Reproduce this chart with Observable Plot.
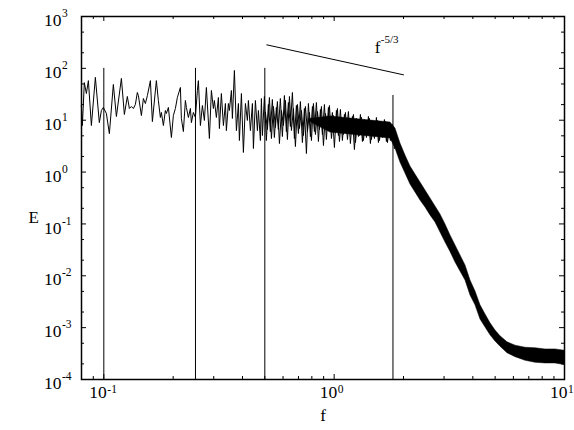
<!DOCTYPE html>
<html>
<head>
<meta charset="utf-8">
<script src="https://cdn.jsdelivr.net/npm/d3@7"></script>
<script src="https://cdn.jsdelivr.net/npm/@observablehq/plot@0.6"></script>
<style>
  html, body { margin: 0; padding: 0; background: #fff; }
  #chart { width: 574px; height: 430px; }
  #chart svg, #chart svg text { font-family: "Liberation Serif", "Times New Roman", serif !important; }
</style>
</head>
<body>
<div id="chart"></div>
<script>
// ---- spectrum (sparse low-frequency part + noisy plateau) ----
const lineF = [
  0.0799,0.0807,0.0823,0.0840,0.0857,0.0883,0.0919,0.0956,0.0976,0.0995,
  0.1026,0.1057,0.1100,0.1134,0.1192,0.1228,0.1265,0.1291,0.1317,0.1344,
  0.1371,0.1398,0.1413,0.1456,0.1485,0.1515,0.1546,0.1593,0.1625,0.1691,
  0.1725,0.1760,0.1778,0.1814,0.1850,0.1869,0.1907,0.1965,0.2004,0.2045,
  0.2086,0.2150,0.2171,0.2215,0.2260,0.2283,0.2329,0.2376,0.2400,0.2448,
  0.2498,0.2548,0.2574,0.2626,0.2679,0.2733,0.2788,0.2873,0.2931,0.2990,
  0.3020,0.3081,0.3144,0.3175,0.3239,0.3305,0.3372,0.3405,0.3474,0.3509,
  0.3580,0.3616,0.3689,0.3764,0.3840,0.3878,0.3957,0.4036,0.4118,0.4201,
  0.4243,0.4329,0.4417,0.4461,0.4551,0.4643,0.4690,0.4784,0.4832,0.4881,
  0.4980,0.5077,0.5181,0.5285,0.5391,0.5501,0.5612,0.5725,0.5841,0.5959,
  0.6081,0.6203,0.6328,0.6457,0.6587,0.6720,0.6856,0.6995,0.7136,0.7280,
  0.7427,0.7578,0.7731,0.7887,0.8047,0.8209,0.8375,0.8544,0.8716,0.8892,
  0.9072,0.9254,0.9441,0.9632,0.9826,1.0025,1.0228,1.0435,1.0645,1.0860,
  1.1080,1.1303,1.1532,1.1765,1.2002,1.2245,1.2492,1.2744,1.3002,1.3264,
  1.3532,1.3804,1.4083,1.4368,1.4658,1.4954,1.5256,1.5564,1.5878,1.6198,
  1.6525,1.6859,1.7199,1.7546,1.7900,1.8262
];
const lineE = [
  19.2,7.9,53,32.7,58,7.9,67,9.0,15.4,17.6,
  13.5,5.5,48.9,11.8,64,12.9,28.7,16.8,18.4,16.8,
  20.1,34.2,29.9,12.3,26.2,21.0,29.9,58,9.4,58,
  24.0,11.3,14.1,7.9,15.4,13.5,17.6,4.64,12.3,16.8,
  27.4,42.8,10.8,6.05,24.0,17.6,11.3,16.8,9.0,14.1,
  11.3,37.4,58,7.9,19.2,9.9,42.8,4.44,37.4,16.8,
  24.0,11.3,27.4,6.9,32.7,7.9,21.0,6.3,21.0,15.4,
  37.4,10.8,91,6.3,21.0,4.06,32.7,2.39,21.0,9.9,
  24.0,6.3,21.0,2.85,24.0,6.3,15.4,4.06,26.2,5.07,
  28.7,4.06,20.1,6.05,25.1,4.64,17.6,6.62,26.2,4.85,
  29.9,6.05,21.9,7.57,34.2,4.44,19.2,5.54,22.9,3.71,
  16.8,2.28,21.0,4.85,18.4,6.05,21.9,3.89,16.1,5.30,
  20.1,4.25,17.6,6.05,14.1,2.98,15.4,5.07,16.1,4.06,
  12.9,5.54,14.7,3.55,11.8,2.72,10.8,4.85,12.9,3.89,
  10.3,4.64,11.8,3.55,9.87,4.44,11.3,3.71,9.4,4.64,
  10.3,3.89,9.03,4.06,8.26,2.85
];
// interleaved samples of the dense plateau (between those above)
const plateauF = [
  0.5030,0.5132,0.5235,0.5341,0.5449,0.5559,0.5671,0.5786,0.5903,0.6022,
  0.6144,0.6268,0.6395,0.6524,0.6656,0.6790,0.6927,0.7067,0.7210,0.7356,
  0.7504,0.7656,0.7811,0.7968,0.8129,0.8294,0.8461,0.8632,0.8806,0.8984,
  0.9166,0.9351,0.9540,0.9732,0.9929,1.0130,1.0334,1.0543,1.0756,1.0973,
  1.1195,1.1421,1.1652,1.1887,1.2127,1.2372,1.2622,1.2877,1.3137,1.3402,
  1.3673,1.3949,1.4231,1.4518,1.4812,1.5111,1.5416,1.5728,1.6045,1.6370,
  1.6700,1.7038,1.7382,1.7733,1.8091
];
const plateauE = [
  14.1,6.62,27.4,4.44,18.4,7.23,22.9,3.55,15.4,7.91,
  24.0,4.25,28.7,6.33,16.8,3.11,20.1,6.92,15.4,5.07,
  18.4,6.05,14.1,4.06,21.0,5.30,14.7,6.62,18.4,3.25,
  13.5,7.57,19.2,4.44,12.3,5.79,16.8,3.89,11.3,5.30,
  14.1,4.25,10.8,6.05,12.9,3.71,9.4,5.07,11.3,4.06,
  9.4,5.54,10.8,4.25,9.03,5.07,9.87,4.06,8.64,4.85,
  9.4,3.71,7.91,4.44,5.54
];

// ---- dense part of the spectrum: lower / upper edge of the solid black core ----
const bandF = [0.78,0.9632,1.3002,1.7555,1.8455,1.9402,2.0396,2.1442,2.2541,
  2.3697,2.4912,2.6189,2.7532,2.8944,3.0428,3.1988,3.3628,3.5352,3.7165,
  3.9070,4.1073,4.3179,4.5393,4.7720,5.0167,5.2739,5.6563,6.1274,6.7718,
  7.4840,8.2711,9.1410,10];
const bandHi = [10.5,11.8,10.3,9.03,6.92,3.55,2.09,1.28,0.898,
  0.630,0.442,0.310,0.217,0.152,0.0977,0.060,0.0385,0.0247,0.0158,
  0.00813,0.00499,0.00269,0.0018,0.00121,0.00088,0.00068,0.00052,0.00045,0.00041,
  0.00040,0.00038,0.00038,0.00036];
const bandLo = [9.5,5.79,5.07,4.44,2.85,1.53,0.94,0.577,0.405,
  0.283,0.208,0.146,0.107,0.0686,0.0440,0.0288,0.0181,0.0121,0.00813,
  0.00418,0.00269,0.00144,0.00101,0.00071,0.00054,0.00043,0.00032,0.00027,0.00023,
  0.00021,0.000204,0.000204,0.00019];

// ---- vertical marker lines ----
const markF = [0.1, 0.25, 0.5, 1.8];
const markTop = [100, 100, 100, 30];
const markBottom = 1e-4;

// ---- f^-5/3 reference segment ----
const slopeF = [0.51, 2.0];
const slopeE = [284, 75];
const slopeLabelF = 1.5, slopeLabelE = 250;

// ---- axes ----
const xDomain = [0.08, 10];
const yDomain = [1e-4, 1e3];
const xMajor = [0.1, 1, 10];
const xMinor = [0.09, 0.2, 0.3, 0.4, 0.5, 0.6, 0.7, 0.8, 0.9, 2, 3, 4, 5, 6, 7, 8, 9];
const yMajor = [1e-4, 1e-3, 1e-2, 1e-1, 1, 1e1, 1e2, 1e3];
const yMinor = [2e-4,5e-4,2e-3,5e-3,2e-2,5e-2,2e-1,5e-1,2,5,20,50,200,500];
const xLabel = "f", yLabel = "E";

// ---- build tables ----
const line = lineF.map((f, i) => ({f, E: lineE[i]}));
const plateau = plateauF.map((f, i) => ({f, E: plateauE[i]}));
const band = bandF.map((f, i) => ({f, lo: bandLo[i], hi: bandHi[i]}));
const marks = markF.map((f, i) => ({f, top: markTop[i]}));
const slope = slopeF.map((f, i) => ({f, E: slopeE[i]}));
const expo = d => String(Math.round(Math.log10(d)));

const W = 574, H = 430;
const mL = 81, mR = 10, mT = 16, mB = 51;
const fw = W - mL - mR, fh = H - mT - mB;
const serif = "Liberation Serif, Times New Roman, serif";
const T = {fontFamily: serif, fill: "black"};

const chart = Plot.plot({
  width: W, height: H,
  marginLeft: mL, marginRight: mR, marginTop: mT, marginBottom: mB,
  style: {fontFamily: serif, fontSize: "15px", background: "white", color: "black"},
  x: {type: "log", domain: xDomain, axis: null},
  y: {type: "log", domain: yDomain, axis: null},
  marks: [
    // dense band
    Plot.areaY(band, {x: "f", y1: "lo", y2: "hi", fill: "black", stroke: "black", strokeWidth: 0.5}),
    // spectrum line
    Plot.line(plateau, {x: "f", y: "E", stroke: "black", strokeWidth: 1}),
    Plot.line(line, {x: "f", y: "E", stroke: "black", strokeWidth: 1}),
    // marker lines
    Plot.ruleX(marks, {x: "f", y1: () => markBottom, y2: "top", stroke: "black", strokeWidth: 1}),
    // slope segment and label
    Plot.line(slope, {x: "f", y: "E", stroke: "black", strokeWidth: 1}),
    Plot.text(["f"], {...T, x: () => slopeLabelF, y: () => slopeLabelE, textAnchor: "start", fontSize: 17}),
    Plot.text(["-5/3"], {...T, x: () => slopeLabelF, y: () => slopeLabelE, textAnchor: "start", dx: 6, dy: -8, fontSize: 11}),
    // ticks (inward, all four sides)
    Plot.ruleX(xMajor, {insetTop: fh - 5, strokeWidth: 1}),
    Plot.ruleX(xMajor, {insetBottom: fh - 5, strokeWidth: 1}),
    Plot.ruleX(xMinor, {insetTop: fh - 3, strokeWidth: 1}),
    Plot.ruleX(xMinor, {insetBottom: fh - 3, strokeWidth: 1}),
    Plot.ruleY(yMajor, {insetRight: fw - 5, strokeWidth: 1}),
    Plot.ruleY(yMajor, {insetLeft: fw - 5, strokeWidth: 1}),
    Plot.ruleY(yMinor, {insetRight: fw - 3, strokeWidth: 1}),
    Plot.ruleY(yMinor, {insetLeft: fw - 3, strokeWidth: 1}),
    // tick labels y
    Plot.text(yMajor, {...T, y: d => d, frameAnchor: "left", text: () => "10", textAnchor: "end", dx: -20, dy: 4, fontSize: 17.5}),
    Plot.text(yMajor, {...T, y: d => d, frameAnchor: "left", text: expo, textAnchor: "start", dx: -19.5, dy: -3, fontSize: 11.5}),
    // tick labels x
    Plot.text(xMajor, {...T, x: d => d, frameAnchor: "bottom", text: () => "10", textAnchor: "end", dx: 3, dy: 18.5, fontSize: 17.5}),
    Plot.text(xMajor, {...T, x: d => d, frameAnchor: "bottom", text: expo, textAnchor: "start", dx: 3.5, dy: 13.5, fontSize: 11.5}),
    // axis labels
    Plot.text([xLabel], {...T, frameAnchor: "bottom", dy: 41, fontSize: 17}),
    Plot.text([yLabel], {...T, frameAnchor: "left", dx: -53, dy: 20, fontSize: 17}),
    // frame
    Plot.frame({stroke: "black", strokeWidth: 1.5})
  ]
});
document.getElementById("chart").appendChild(chart);
</script>
</body>
</html>
